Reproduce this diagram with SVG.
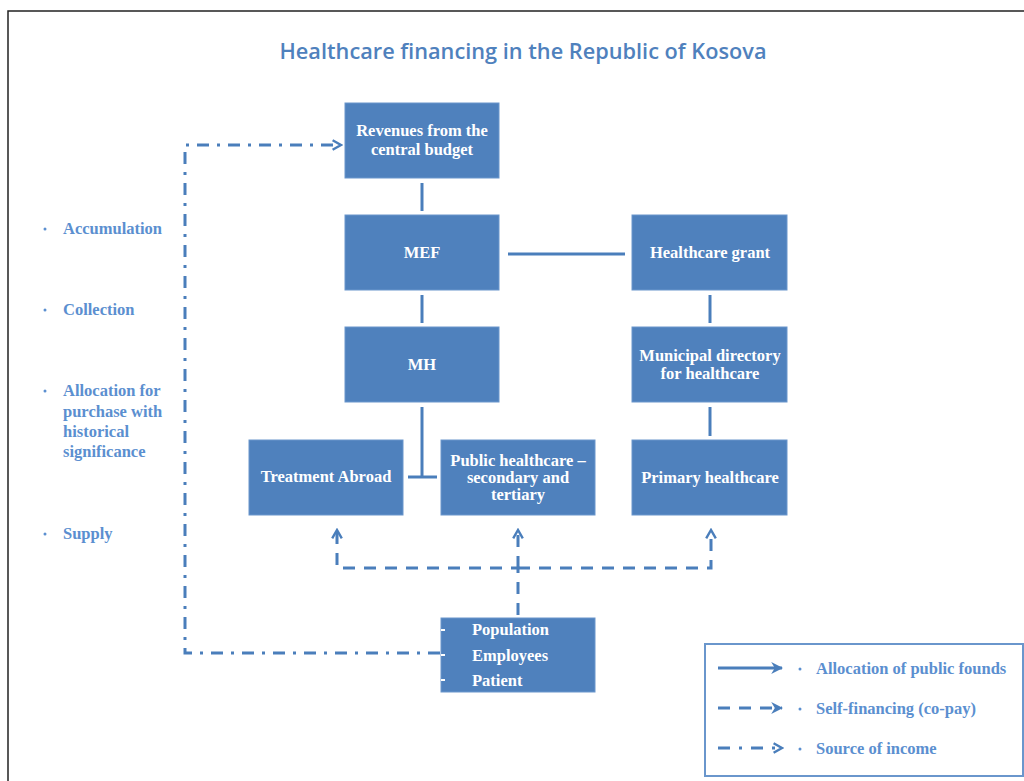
<svg xmlns="http://www.w3.org/2000/svg" width="1024" height="781" viewBox="0 0 1024 781">
<defs>
<style>
.box{fill:#4f81bd;stroke:#6a96cc;stroke-width:1}
.bt{font-family:"Liberation Serif",serif;font-weight:bold;font-size:16.5px;fill:#ffffff;text-anchor:middle}
.lt{font-family:"Liberation Serif",serif;font-weight:bold;font-size:16.5px;fill:#5b8fd0}
.solid{stroke:#4a7ebb;stroke-width:3;fill:none}
.dash{stroke:#4a7ebb;stroke-width:3;fill:none;stroke-dasharray:12 9}
.dd{stroke:#4a7ebb;stroke-width:3;fill:none;stroke-dasharray:12 8 3 8}
</style>
<marker id="chev" viewBox="0 0 10 10" refX="8" refY="5" markerWidth="4" markerHeight="4" orient="auto" markerUnits="strokeWidth">
<path d="M1,1 L8,5 L1,9" fill="none" stroke="#4a7ebb" stroke-width="2"/>
</marker>
<marker id="tri" viewBox="0 0 10 10" refX="9" refY="5" markerWidth="4" markerHeight="4" orient="auto" markerUnits="strokeWidth">
<path d="M0,0 L10,5 L0,10 L3,5 Z" fill="#4a7ebb"/>
</marker>
</defs>
<rect x="0" y="0" width="1024" height="781" fill="#ffffff"/>
<rect x="8" y="11" width="1020" height="775" fill="none" stroke="#222" stroke-width="1.5"/>
<text x="523" y="59" font-family="Open Sans, sans-serif" font-weight="600" font-size="21" fill="#4f81bd" text-anchor="middle" textLength="487" lengthAdjust="spacingAndGlyphs">Healthcare financing in the Republic of Kosova</text>

<g id="left-labels" class="lt">
<circle cx="45" cy="229" r="1.5" fill="#5b8fd0"/><text x="63" y="234" class="lt">Accumulation</text>
<circle cx="45" cy="310" r="1.5" fill="#5b8fd0"/><text x="63" y="315" class="lt">Collection</text>
<circle cx="45" cy="391" r="1.5" fill="#5b8fd0"/><text x="63" y="396" class="lt">Allocation for</text>
<text x="63" y="417" class="lt">purchase with</text>
<text x="63" y="437" class="lt">historical</text>
<text x="63" y="457" class="lt">significance</text>
<circle cx="45" cy="534" r="1.5" fill="#5b8fd0"/><text x="63" y="539" class="lt">Supply</text>
</g>

<g id="connectors">
<line class="solid" x1="422" y1="183" x2="422" y2="211"/>
<line class="solid" x1="508" y1="254" x2="625" y2="254"/>
<line class="solid" x1="422" y1="295" x2="422" y2="323"/>
<polyline class="solid" points="422,407 422,477"/>
<line class="solid" x1="408" y1="477" x2="437" y2="477"/>
<line class="solid" x1="710" y1="295" x2="710" y2="323"/>
<line class="solid" x1="710" y1="407" x2="710" y2="436"/>
<polyline class="dash" points="518,615 518,568 337,568 337,530" marker-end="url(#chev)"/>
<polyline class="dash" points="518,568 518,530" marker-end="url(#chev)"/>
<polyline class="dash" points="518,568 711,568 711,530" marker-end="url(#chev)"/>
<polyline class="dd" points="440,653 185,653 185,145 341,145" marker-end="url(#chev)"/>
</g>

<g id="revenues"><rect class="box" x="345" y="103" width="154" height="75"/><text class="bt" x="422" y="136">Revenues from the</text><text class="bt" x="422" y="155">central budget</text></g>
<g id="mef"><rect class="box" x="345" y="215" width="154" height="75"/><text class="bt" x="422" y="258">MEF</text></g>
<g id="mh"><rect class="box" x="345" y="327" width="154" height="75"/><text class="bt" x="422" y="370">MH</text></g>
<g id="grant"><rect class="box" x="632" y="215" width="155" height="75"/><text class="bt" x="710" y="258">Healthcare grant</text></g>
<g id="municipal"><rect class="box" x="632" y="327" width="155" height="75"/><text class="bt" x="710" y="361">Municipal directory</text><text class="bt" x="710" y="379">for healthcare</text></g>
<g id="abroad"><rect class="box" x="249" y="440" width="154" height="75"/><text class="bt" x="326" y="482">Treatment Abroad</text></g>
<g id="public"><rect class="box" x="441" y="440" width="154" height="75"/><text class="bt" x="518" y="466">Public healthcare –</text><text class="bt" x="518" y="483">secondary and</text><text class="bt" x="518" y="500">tertiary</text></g>
<g id="primary"><rect class="box" x="632" y="440" width="155" height="75"/><text class="bt" x="710" y="483">Primary healthcare</text></g>
<g id="population"><rect class="box" x="441" y="618" width="154" height="74"/>
<line x1="441" y1="630" x2="445" y2="630" stroke="#fff" stroke-width="2"/>
<line x1="441" y1="655" x2="445" y2="655" stroke="#fff" stroke-width="2"/>
<line x1="441" y1="680" x2="445" y2="680" stroke="#fff" stroke-width="2"/>
<text class="bt" x="472" y="635" style="text-anchor:start">Population</text>
<text class="bt" x="472" y="661" style="text-anchor:start">Employees</text>
<text class="bt" x="472" y="686" style="text-anchor:start">Patient</text>
</g>

<g id="legend">
<rect x="705" y="644" width="318" height="132" fill="#fff" stroke="#6a96cc" stroke-width="2"/>
<line class="solid" x1="718" y1="668" x2="782" y2="668" marker-end="url(#tri)"/>
<line class="solid" x1="718" y1="708" x2="782" y2="708" style="stroke-dasharray:12 9" marker-end="url(#tri)"/>
<line class="solid" x1="718" y1="748" x2="782" y2="748" style="stroke-dasharray:12 9 3 9" marker-end="url(#chev)"/>
<circle cx="800" cy="669" r="1.5" fill="#5b8fd0"/><text class="lt" x="816" y="674">Allocation of public founds</text>
<circle cx="800" cy="709" r="1.5" fill="#5b8fd0"/><text class="lt" x="816" y="714">Self-financing (co-pay)</text>
<circle cx="800" cy="749" r="1.5" fill="#5b8fd0"/><text class="lt" x="816" y="754">Source of income</text>
</g>
</svg>
